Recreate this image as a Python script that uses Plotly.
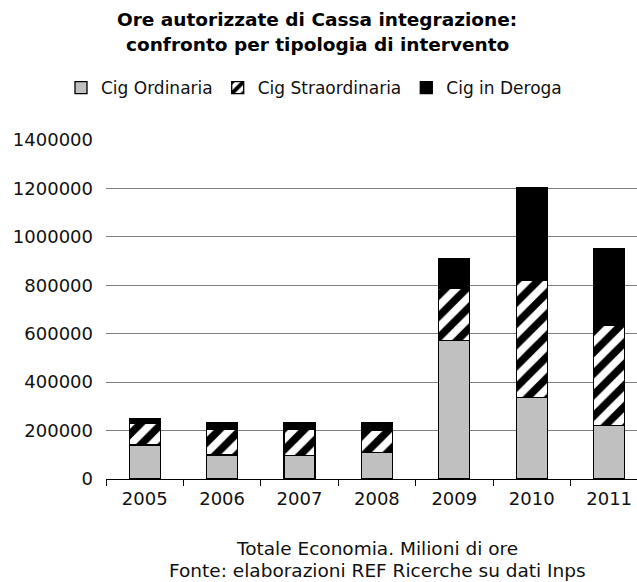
import plotly.graph_objects as go

# Cassa integrazione: authorised hours by type of intervention
years = ["2005", "2006", "2007", "2008", "2009", "2010", "2011"]
cig_ordinaria = [140000, 99000, 96000, 110000, 572000, 338000, 221000]
cig_straordinaria = [88000, 107000, 110000, 92000, 217000, 483000, 414000]
cig_deroga = [20000, 27000, 27000, 31000, 121000, 381000, 316000]

title_lines = ["Ore autorizzate di Cassa integrazione:",
               "confronto per tipologia di intervento"]
note_lines = ["Totale Economia. Milioni di ore",
              "Fonte: elaborazioni REF Ricerche su dati Inps"]

FONT = "DejaVu Sans"
TXT = "#111111"
W, H = 637, 582
ML, MR, MT, MB = 106, 0, 140, 103
plot_h = H - MT - MB
plot_w = W - ML - MR

outline = dict(color="black", width=1.3)

fig = go.Figure()
fig.add_trace(go.Bar(
    name="Cig Ordinaria", x=years, y=cig_ordinaria, width=0.4,
    marker=dict(color="#c0c0c0", line=outline),
))
fig.add_trace(go.Bar(
    name="Cig Straordinaria", x=years, y=cig_straordinaria, width=0.4,
    marker=dict(color="white", line=outline,
                pattern=dict(shape="/", fgcolor="black", bgcolor="white",
                             fgopacity=1, size=15, solidity=0.5,
                             fillmode="replace")),
))
fig.add_trace(go.Bar(
    name="Cig in Deroga", x=years, y=cig_deroga, width=0.4,
    marker=dict(color="black", line=outline),
))


def py(pix):
    """Figure pixel row -> paper y coordinate."""
    return (H - MB - pix) / plot_h


def px(pix):
    """Figure pixel column -> paper x coordinate."""
    return (pix - ML) / plot_w


annotations = []
for i, line in enumerate(title_lines):
    annotations.append(dict(
        text=f"<b>{line}</b>", xref="paper", yref="paper",
        x=px(317), xanchor="center", y=py(20 + 24 * i), yanchor="middle",
        showarrow=False, font=dict(family=FONT, size=18.5, color="black"),
    ))
for i, line in enumerate(note_lines):
    annotations.append(dict(
        text=line, xref="paper", yref="paper",
        x=px(377), xanchor="center", y=py(548 + 22 * i), yanchor="middle",
        showarrow=False, font=dict(family=FONT, size=18.5, color=TXT),
    ))

fig.update_layout(
    width=W, height=H,
    margin=dict(l=ML, r=MR, t=MT, b=MB),
    barmode="stack",
    plot_bgcolor="white", paper_bgcolor="white",
    font=dict(family=FONT, size=18, color=TXT),
    legend=dict(
        orientation="h", traceorder="normal",
        x=61 / W, xanchor="left", xref="container",
        y=1 - 70 / H, yanchor="top", yref="container",
        font=dict(family=FONT, size=17, color=TXT),
        itemwidth=30, bgcolor="rgba(0,0,0,0)",
    ),
    showlegend=True,
    xaxis=dict(
        type="category", range=[-0.5, 6.36],
        showline=True, linecolor="black", linewidth=1,
        ticks="outside", tickson="boundaries", ticklen=6, tickcolor="black",
        ticklabelstandoff=3,
        showgrid=False, zeroline=False,
        tickfont=dict(family=FONT, size=18, color=TXT),
    ),
    yaxis=dict(
        range=[0, 1400000], dtick=200000, tickformat="d",
        showgrid=True, gridcolor="#7f7f7f", gridwidth=1,
        showline=False, zeroline=False, ticks="",
        ticklabelstandoff=12,
        tickfont=dict(family=FONT, size=18, color=TXT),
    ),
    annotations=annotations,
)

fig.write_html("out.html")
